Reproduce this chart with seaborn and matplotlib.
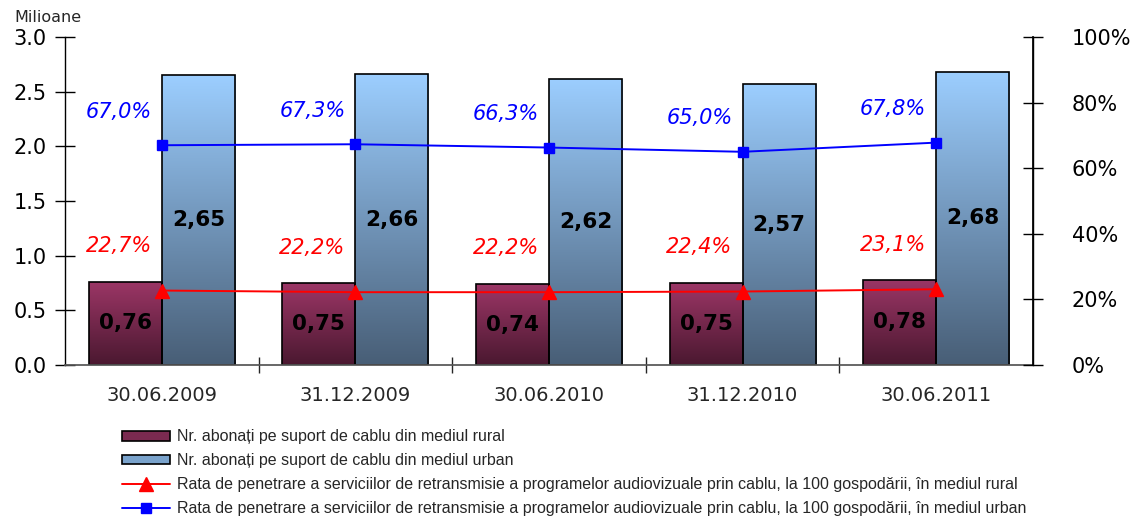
import numpy as np
import pandas as pd
import matplotlib
matplotlib.use("Agg")
import matplotlib.pyplot as plt
import seaborn as sns
from matplotlib.colors import LinearSegmentedColormap
from matplotlib.ticker import FixedLocator

categories = ["30.06.2009", "31.12.2009", "30.06.2010", "31.12.2010", "30.06.2011"]
rural = [0.76, 0.75, 0.74, 0.75, 0.78]
urban = [2.65, 2.66, 2.62, 2.57, 2.68]
rate_rural = [22.7, 22.2, 22.2, 22.4, 23.1]
rate_urban = [67.0, 67.3, 66.3, 65.0, 67.8]

lbl_rural = "Nr. abonați pe suport de cablu din mediul rural"
lbl_urban = "Nr. abonați pe suport de cablu din mediul urban"
lbl_rr = "Rata de penetrare a serviciilor de retransmisie a programelor audiovizuale prin cablu, la 100 gospodării, în mediul rural"
lbl_ru = "Rata de penetrare a serviciilor de retransmisie a programelor audiovizuale prin cablu, la 100 gospodării, în mediul urban"

sns.set_theme(style="white")
plt.rcParams["font.family"] = ["DejaVu Sans"]

df = pd.DataFrame({
    "cat": categories * 2,
    "val": rural + urban,
    "serie": [lbl_rural] * len(categories) + [lbl_urban] * len(categories),
})

fig = plt.figure(figsize=(11.34, 5.18), dpi=100)
ax = fig.add_axes([65 / 1134, 1 - 365 / 518, (1033 - 65) / 1134, (365 - 37) / 518])

sns.barplot(data=df, x="cat", y="val", hue="serie", order=categories,
            hue_order=[lbl_rural, lbl_urban], palette=["#7a2a50", "#7aa3cc"],
            width=0.755, gap=0, edgecolor="black", linewidth=1.2, ax=ax,
            legend=False, saturation=1)

cm_r = LinearSegmentedColormap.from_list("r", ["#4a1830", "#9c3666"])
cm_u = LinearSegmentedColormap.from_list("u", ["#485e76", "#9cceff"])
grad = np.linspace(0, 1, 256).reshape(-1, 1)
bars = list(ax.patches)
n = len(categories)
for i, p in enumerate(bars):
    x0, y0 = p.get_x(), p.get_y()
    w, h = p.get_width(), p.get_height()
    cmap = cm_r if i < n else cm_u
    im = ax.imshow(grad, cmap=cmap, origin="lower", aspect="auto",
                   extent=[x0, x0 + w, y0, y0 + h], zorder=p.get_zorder() - 0.1)
    im.set_clip_path(p)
    p.set_facecolor("none")

ax.set_xlim(-0.5, n - 0.5)
ax.set_ylim(0, 3.0)
ax.set_yticks(np.arange(0, 3.01, 0.5))
ax.set_yticklabels([f"{v:.1f}" for v in np.arange(0, 3.01, 0.5)], fontsize=15)
ax.tick_params(axis="y", direction="inout", length=14, width=1, pad=6, left=True, colors="black")
ax.xaxis.set_major_locator(FixedLocator([i + 0.5 for i in range(n - 1)]))
ax.xaxis.set_minor_locator(FixedLocator(list(range(n))))
ax.set_xticklabels([], minor=False)
ax.set_xticklabels(categories, minor=True, fontsize=14)
ax.tick_params(axis="x", which="major", direction="inout", length=12, width=1, bottom=True)
ax.tick_params(axis="x", which="minor", length=0, pad=15)
ax.set_xlabel("")
ax.set_ylabel("")
ax.spines["top"].set_visible(False)
for s in ["left", "right"]:
    ax.spines[s].set_color("black")
    ax.spines[s].set_linewidth(1)
ax.spines["bottom"].set_color("#555555")

# value labels
vals = rural + urban
for i, p in enumerate(bars):
    ax.text(p.get_x() + p.get_width() / 2, p.get_height() * 0.5,
            f"{vals[i]:.2f}".replace(".", ","), ha="center", va="center",
            fontsize=15.5, fontweight="bold", color="black", zorder=5)

ax2 = ax.twinx()
ax2.set_ylim(0, 100)
xs = np.arange(n)
ax2.plot(xs, rate_rural, color="#ff0000", lw=1.4, marker="^", ms=10, label=lbl_rr)
ax2.plot(xs, rate_urban, color="#0000ff", lw=1.4, marker="s", ms=7, label=lbl_ru)
ax2.set_yticks(np.arange(0, 101, 20))
ax2.set_yticklabels([f"{v}%" for v in range(0, 101, 20)], fontsize=15)
ax2.tick_params(axis="y", direction="inout", length=14, width=1, pad=21, right=True, colors="black")
for s in ["top", "left", "bottom"]:
    ax2.spines[s].set_visible(False)
ax2.spines["right"].set_color("black")
ax2.grid(False)
ax.grid(False)

for x, v in zip(xs, rate_urban):
    ax2.annotate(f"{v:.1f}%".replace(".", ","), (x, v), xytext=(-31, 24),
                 textcoords="offset points", ha="center", va="center",
                 fontsize=15, fontstyle="italic", color="#0000ff")
for x, v in zip(xs, rate_rural):
    ax2.annotate(f"{v:.1f}%".replace(".", ","), (x, v), xytext=(-31, 32),
                 textcoords="offset points", ha="center", va="center",
                 fontsize=15, fontstyle="italic", color="#ff0000")

fig.text(14 / 1134, 1 - 18 / 518, "Milioane", fontsize=11.5, ha="left", va="center")

handles = [plt.Rectangle((0, 0), 1, 1, facecolor="#7a2a50", edgecolor="black", lw=1.2),
           plt.Rectangle((0, 0), 1, 1, facecolor="#7aa3cc", edgecolor="black", lw=1.2)]
h2, l2 = ax2.get_legend_handles_labels()
leg = fig.legend(handles + h2, [lbl_rural, lbl_urban] + l2, loc="upper left",
                 bbox_to_anchor=(116 / 1134, 1 - 423 / 518), frameon=False,
                 prop={"family": "Liberation Sans", "size": 11.5},
                 handlelength=3.0, handleheight=0.55, handletextpad=0.45,
                 labelspacing=0.55, borderaxespad=0)

fig.savefig("out.png", dpi=100, facecolor="white")
